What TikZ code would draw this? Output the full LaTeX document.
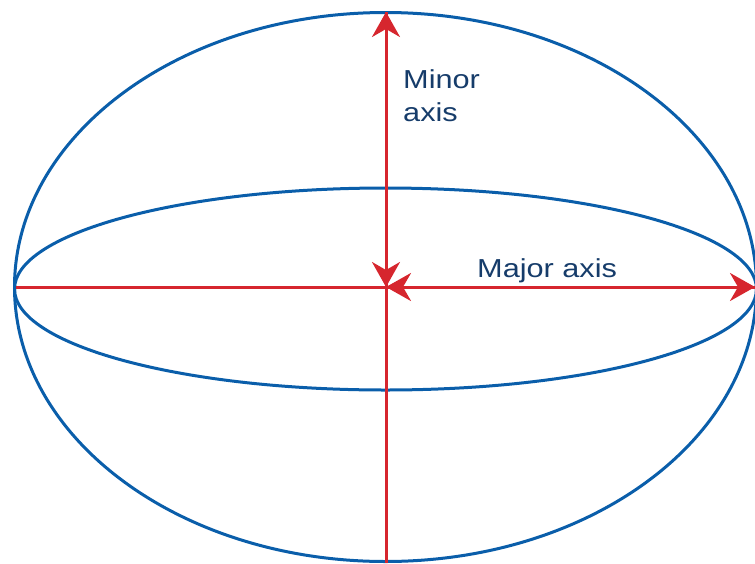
\documentclass[tikz,border=0pt]{standalone}
\usepackage{fontspec}
\setmainfont{Liberation Sans}[FakeStretch=1.18]
\usetikzlibrary{arrows.meta}
\definecolor{ellblue}{RGB}{10,94,170}
\definecolor{axred}{RGB}{214,38,46}
\definecolor{txtblue}{RGB}{22,60,106}
\tikzset{
  ell/.style={draw=ellblue, line width=3pt},
  axisline/.style={draw=axred, line width=3pt},
  tip/.style={-{Stealth[length=25pt,width=28pt,inset=8pt]}},
  lbl/.style={text=txtblue, font=\fontsize{26}{33}\selectfont, inner sep=0pt, anchor=base west, align=left}
}
\begin{document}
\begin{tikzpicture}[x=1pt,y=-1pt]
\useasboundingbox (0,0) rectangle (755,563);
\coordinate (O) at (385.5,287);
\coordinate (C) at (386,287);
\coordinate (T) at (386,12);
\coordinate (B) at (386,563);
\coordinate (L) at (16,287);
\coordinate (R) at (755,287);
\draw[ell] (O) ellipse [x radius=371pt, y radius=274.5pt];
\draw[ell] (385.5,289) ellipse [x radius=371pt, y radius=101pt];
\draw[axisline] (L) -- (C);
\draw[axisline] (C) -- (B);
\draw[axisline, tip] (C) -- (R);
\draw[axisline, tip] (C) -- (T);
\draw[axisline, tip] (T) -- (C);
\draw[axisline, tip] (R) -- (C);
\node[lbl] (minor) at (403,121) {Minor\\axis};
\node[lbl] (major) at (477,277) {Major axis};
\end{tikzpicture}
\end{document}
